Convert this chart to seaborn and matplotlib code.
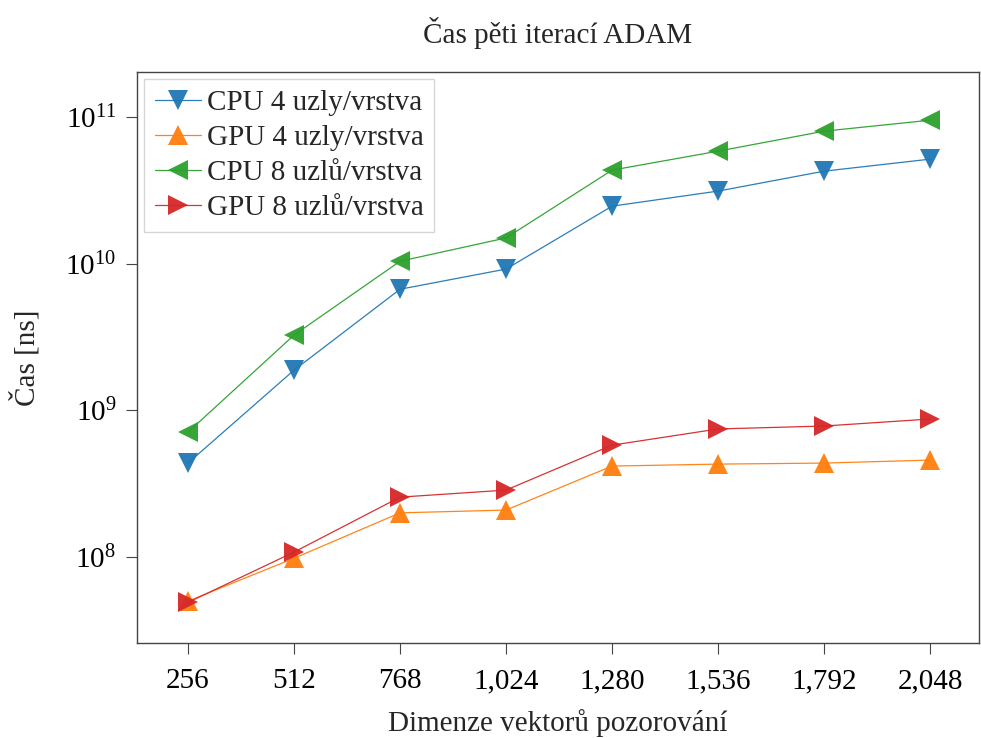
import matplotlib
matplotlib.use("Agg")
import matplotlib.pyplot as plt
import matplotlib.ticker as mticker
import seaborn as sns
import pandas as pd

dims = [256, 512, 768, 1024, 1280, 1536, 1792, 2048]
cpu4 = [4.37e8, 1.88e9, 6.7e9, 9.2e9, 2.47e10, 3.13e10, 4.28e10, 5.17e10]
gpu4 = [5.0e7, 9.8e7, 2.0e8, 2.09e8, 4.17e8, 4.3e8, 4.37e8, 4.58e8]
cpu8 = [7.1e8, 3.26e9, 1.04e10, 1.5e10, 4.35e10, 5.86e10, 8.02e10, 9.53e10]
gpu8 = [4.9e7, 1.08e8, 2.56e8, 2.86e8, 5.79e8, 7.47e8, 7.82e8, 8.73e8]

names = ["CPU 4 uzly/vrstva", "GPU 4 uzly/vrstva", "CPU 8 uzlů/vrstva", "GPU 8 uzlů/vrstva"]
series = [cpu4, gpu4, cpu8, gpu8]
colors = ["#1f77b4", "#ff7f0e", "#2ca02c", "#d62728"]
markers = ["v", "^", "<", ">"]

rows = []
for n, s in zip(names, series):
    for d, v in zip(dims, s):
        rows.append({"dim": d, "time": v, "series": n})
df = pd.DataFrame(rows)

sns.set_style("ticks")
plt.rcParams["font.family"] = ["Liberation Serif", "DejaVu Serif"]
plt.rcParams["mathtext.fontset"] = "stix"

FS = 21

fig = plt.figure(figsize=(9.81, 7.38), dpi=100)
ax = fig.add_axes([0.1397, 0.1287, 0.8583, 0.7737])

sns.lineplot(data=df, x="dim", y="time", hue="series", style="series",
             hue_order=names, style_order=names,
             palette=dict(zip(names, colors)),
             markers=dict(zip(names, markers)), dashes=False,
             markersize=14, markeredgewidth=0, linewidth=0.9, ax=ax,
             alpha=0.95)

ax.set_yscale("log")
ax.set_xlim(133, 2166)
ax.set_ylim(2.59e7, 2.03e11)
ax.set_xticks(dims)
ax.xaxis.set_major_formatter(mticker.FuncFormatter(lambda v, p: f"{int(v):,}"))
ax.yaxis.set_major_locator(mticker.LogLocator(base=10, numticks=10))
ax.yaxis.set_minor_locator(mticker.NullLocator())
ax.tick_params(axis="both", labelsize=FS, length=8, width=0.8, colors="#444444", labelcolor="black")
ax.tick_params(axis="x", pad=10)
ax.tick_params(axis="y", pad=7)
for sp in ax.spines.values():
    sp.set_visible(True)
    sp.set_color("#444444")
    sp.set_linewidth(1.0)

ax.set_xlabel("Dimenze vektorů pozorování", fontsize=FS, labelpad=10.5)
ax.set_ylabel("Čas [ns]", fontsize=FS, labelpad=18)
ax.set_title("Čas pěti iterací ADAM", fontsize=FS, pad=21)

leg = ax.legend(loc="upper left", fontsize=FS, fancybox=False, frameon=True,
                edgecolor="#cccccc", handlelength=1.6, handletextpad=0.2,
                borderpad=0.35, labelspacing=0.3, borderaxespad=0.25)
leg.get_frame().set_linewidth(1.0)

fig.savefig("out.png", dpi=100)
